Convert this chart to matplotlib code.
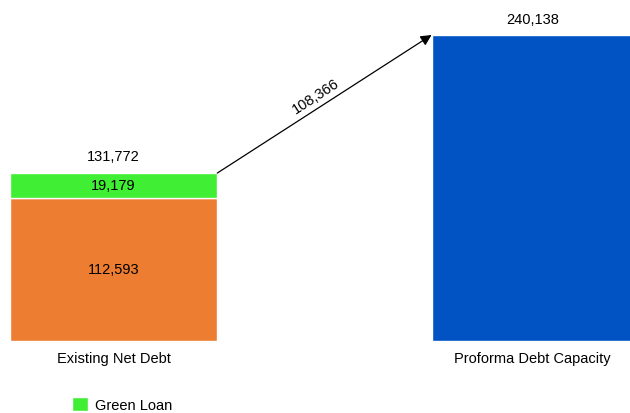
import matplotlib.pyplot as plt
import numpy as np

plt.rcParams['font.family'] = ['Liberation Sans', 'DejaVu Sans']

categories = ['Existing Net Debt', 'Proforma Debt Capacity']
existing_parts = [112593, 19179]      # base, green loan
proforma = 240138
existing_total = sum(existing_parts)
increase = proforma - existing_total

orange = '#ED7D31'
green = '#40EE33'
blue = '#0153C3'
fs = 10.5

fig = plt.figure(figsize=(6.3, 4.14), dpi=100)
ax = fig.add_axes([0, 1 - 342 / 414, 1, 306 / 414])
ax.set_xlim(-0.271, 1.2327)
ax.set_ylim(0, proforma)
ax.axis('off')

w = [0.495, 0.482]
x = np.arange(len(categories))
ax.bar(x[0], existing_parts[0], width=w[0], color=orange, edgecolor='white', linewidth=1)
ax.bar(x[0], existing_parts[1], bottom=existing_parts[0], width=w[0], color=green,
       edgecolor='white', linewidth=1, label='Green Loan')
ax.bar(x[1], proforma, width=w[1], color=blue, edgecolor='white', linewidth=1)

# values inside / above bars
ax.text(x[0], existing_parts[0] / 2, f'{existing_parts[0]:,}', ha='center', va='center', fontsize=fs)
ax.text(x[0], existing_parts[0] + existing_parts[1] / 2, f'{existing_parts[1]:,}',
        ha='center', va='center', fontsize=fs)
ax.text(x[0], existing_total + 13500, f'{existing_total:,}', ha='center', va='center',
        fontsize=fs, clip_on=False)
ax.text(x[1], proforma + 12500, f'{proforma:,}', ha='center', va='center',
        fontsize=fs, clip_on=False)

# arrow showing the increase
x0 = x[0] + w[0] / 2
x1 = x[1] - w[1] / 2
ax.annotate('', xy=(x1, proforma), xytext=(x0, existing_total),
            arrowprops=dict(arrowstyle='-|>', color='black', lw=0.9,
                            mutation_scale=16, shrinkA=0, shrinkB=0), annotation_clip=False)
ax.text((x0 + x1) / 2 - 0.02, (existing_total + proforma) / 2 + 7000, f'{increase:,}',
        ha='center', va='center', rotation=33, rotation_mode='anchor', fontsize=fs)

# category labels
for xi, c in zip(x, categories):
    ax.text(xi, -13500, c, ha='center', va='center', fontsize=fs, clip_on=False)

fig.legend(loc='lower left', bbox_to_anchor=(72 / 630, 1 / 414), frameon=False, fontsize=fs,
           handlelength=1.1, handleheight=1.1, handletextpad=0.45, borderpad=0,
           borderaxespad=0)

plt.savefig('out.png', dpi=100)
